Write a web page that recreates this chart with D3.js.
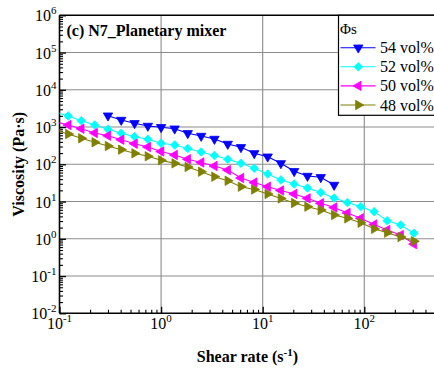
<!DOCTYPE html>
<html><head><meta charset="utf-8">
<script src="https://cdn.jsdelivr.net/npm/d3@7"></script>
<style>body{margin:0;background:#fff} svg{display:block}</style>
</head><body><svg id="c" width="434" height="372"></svg>
<script>
// ---- data ----
const shearRate = [0.090,0.122,0.164,0.222,0.300,0.405,0.548,0.741,1.00,1.36,1.83,2.48,3.35,4.53,6.11,8.26,11.2,15.1,20.4,27.6,37.3,50.5,68.2,92.2,125,168,228,308];
const phi54 = [null,null,null,null,2020,1545,1260,1070,985,903,680,575,478,351,286,197,160,106,65,48.5,44.8,27.8,null,null,null,null,null,null];
const phi52 = [2535,1980,1481,1135,871,680,551,469,366,330,266,214,172,136,106,78,55,38,29.6,23.1,17.5,12.4,9.42,7.3,5.35,3.06,2.35,1.41];
const phi50 = [1409,1135,903,692,586,457,357,291,221,178,137,112,90,70,42.9,32.4,25.0,19.8,16.0,12.2,8.97,6.92,4.93,3.55,2.42,1.72,1.26,0.72];
const phi48 = [834,650,499,390,310,247,197,164,128,106,84.7,63.3,46.5,36.1,25.0,21.1,16.0,12.1,9.14,7.28,5.93,4.36,3.55,2.70,1.85,1.46,1.12,0.86];
const seriesNames = ["54 vol%","52 vol%","50 vol%","48 vol%"];
const xMajor = [0.1,1,10,100];
const xExp = ["-1","0","1","2"];
const yMajor = [1e-2,1e-1,1e0,1e1,1e2,1e3,1e4,1e5,1e6];
const yExp = ["-2","-1","0","1","2","3","4","5","6"];

const series = [
  {name: seriesNames[0], values: phi54, color: "#0000FF", shape: "down"},
  {name: seriesNames[1], values: phi52, color: "#00FFFF", shape: "diamond"},
  {name: seriesNames[2], values: phi50, color: "#FF00FF", shape: "left"},
  {name: seriesNames[3], values: phi48, color: "#808000", shape: "right"}
];

const svg = d3.select("#c");
const L = 59.5, R = 435.3, T = 15.3, B = 313.3;
const x = d3.scaleLog().domain([0.1, 500]).range([L, R]);
const y = d3.scaleLog().domain([0.01, 1e6]).range([B, T]);
const serif = "'Liberation Serif','Times New Roman',serif";

// clip
svg.append("defs").append("clipPath").attr("id","pc")
  .append("rect").attr("x",L).attr("y",T).attr("width",R-L).attr("height",B-T);

// grid
const g = svg.append("g");
g.selectAll(".gx").data(xMajor.slice(1)).enter().append("line")
  .attr("x1",d=>x(d)).attr("x2",d=>x(d)).attr("y1",T).attr("y2",B)
  .attr("stroke","#8c8c8c").attr("stroke-width",1.1);
g.selectAll(".gy").data(yMajor.slice(1,-1)).enter().append("line")
  .attr("x1",L).attr("x2",R).attr("y1",d=>y(d)).attr("y2",d=>y(d))
  .attr("stroke","#8c8c8c").attr("stroke-width",1.1);

// minor ticks
const xMinor = [];
[0.1,1,10,100].forEach(b=>{for(let k=2;k<=9;k++){const v=b*k; if(v<=500) xMinor.push(v);}});
const yMinor = [];
yMajor.slice(0,-1).forEach(b=>{for(let k=2;k<=9;k++) yMinor.push(b*k);});

const axB = svg.append("g").attr("transform",`translate(0,${B})`)
  .call(d3.axisBottom(x).tickValues(xMinor).tickSize(-3.5).tickFormat("").tickSizeOuter(0));
axB.selectAll("line").attr("stroke","#000").attr("stroke-width",1.1);
axB.select(".domain").remove();
const axB2 = svg.append("g").attr("transform",`translate(0,${B})`)
  .call(d3.axisBottom(x).tickValues(xMajor).tickSize(-6.5).tickFormat("").tickSizeOuter(0));
axB2.selectAll("line").attr("stroke","#000").attr("stroke-width",1.3);
axB2.select(".domain").remove();

const axL = svg.append("g").attr("transform",`translate(${L},0)`)
  .call(d3.axisLeft(y).tickValues(yMinor).tickSize(-3.5).tickFormat("").tickSizeOuter(0));
axL.selectAll("line").attr("stroke","#000").attr("stroke-width",1.1);
axL.select(".domain").remove();
const axL2 = svg.append("g").attr("transform",`translate(${L},0)`)
  .call(d3.axisLeft(y).tickValues(yMajor).tickSize(-6.5).tickFormat("").tickSizeOuter(0));
axL2.selectAll("line").attr("stroke","#000").attr("stroke-width",1.3);
axL2.select(".domain").remove();

// frame
svg.append("line").attr("x1",L).attr("x2",434).attr("y1",T).attr("y2",T).attr("stroke","#000").attr("stroke-width",1.6);
svg.append("line").attr("x1",L).attr("x2",434).attr("y1",B).attr("y2",B).attr("stroke","#000").attr("stroke-width",1.6);
svg.append("line").attr("x1",L).attr("x2",L).attr("y1",T).attr("y2",B).attr("stroke","#000").attr("stroke-width",1.6);

// tick labels
const yl = svg.append("g").attr("font-family",serif).attr("fill","#000");
yMajor.forEach((v,i)=>{
  const t = yl.append("text").attr("x",56.5).attr("y",y(v)+6).attr("text-anchor","end").attr("font-size",16);
  t.append("tspan").text("10");
  t.append("tspan").attr("dy",-7).attr("font-size",11).text(yExp[i]);
});
xMajor.forEach((v,i)=>{
  const t = yl.append("text").attr("x",x(v)).attr("y",328.5).attr("text-anchor","middle").attr("font-size",16);
  t.append("tspan").text("10");
  t.append("tspan").attr("dy",-7).attr("font-size",11).text(xExp[i]);
});

// axis titles
svg.append("text").attr("transform",`translate(24,${(T+B)/2}) rotate(-90)`)
  .attr("text-anchor","middle").attr("font-family",serif).attr("font-weight","bold").attr("font-size",16)
  .text("Viscosity (Pa\u00b7s)");
const xt = svg.append("text").attr("x",(L+R)/2).attr("y",361.5).attr("text-anchor","middle")
  .attr("font-family",serif).attr("font-weight","bold").attr("font-size",16);
xt.append("tspan").text("Shear rate (s");
xt.append("tspan").attr("dy",-6).attr("font-size",11).text("-1");
xt.append("tspan").attr("dy",6).text(")");

// panel title
svg.append("text").attr("x",66.5).attr("y",35.5).attr("font-family",serif).attr("font-weight","bold")
  .attr("font-size",16).text("(c) N7_Planetary mixer");

// symbols
function sym(sel, shape, color){
  let type = d3.symbolTriangle, size = 38, rot = 0;
  if(shape==="down") rot = 180;
  if(shape==="left") rot = -90;
  if(shape==="right") rot = 90;
  if(shape==="diamond"){ type = d3.symbolSquare; size = 36; rot = 45; }
  sel.append("path").attr("d", d3.symbol().type(type).size(size)())
    .attr("fill",color).attr("stroke",color).attr("stroke-width",0.8)
    .attr("transform", `rotate(${rot})`);
}

const plot = svg.append("g").attr("clip-path","url(#pc)");
const line = d3.line().defined(d=>d.v!=null).x(d=>x(d.x)).y(d=>y(d.v));
series.forEach(s=>{
  const pts = shearRate.map((xv,i)=>({x:xv, v:s.values[i]}));
  plot.append("path").attr("d", line(pts)).attr("fill","none").attr("stroke",s.color).attr("stroke-width",1.1);
  pts.filter(d=>d.v!=null).forEach(d=>{
    const gg = plot.append("g").attr("transform",`translate(${x(d.x)},${y(d.v)})`);
    sym(gg, s.shape, s.color);
  });
});

// legend
const lg = svg.append("g");
lg.append("rect").attr("x",338.5).attr("y",T).attr("width",120).attr("height",115.3-T)
  .attr("fill","#fff").attr("stroke","#000").attr("stroke-width",1.2);
lg.append("text").attr("x",340).attr("y",33.5).attr("font-family",serif).attr("font-size",15).text("\u03a6s");
series.forEach((s,i)=>{
  const yy = 47.7 + i*19.1;
  lg.append("line").attr("x1",340.5).attr("x2",375.5).attr("y1",yy).attr("y2",yy).attr("stroke",s.color).attr("stroke-width",1.1);
  const gg = lg.append("g").attr("transform",`translate(358.3,${yy})`);
  sym(gg, s.shape, s.color);
  lg.append("text").attr("x",380).attr("y",yy+5.5).attr("font-family",serif).attr("font-size",16).text(s.name);
});
</script></body></html>
